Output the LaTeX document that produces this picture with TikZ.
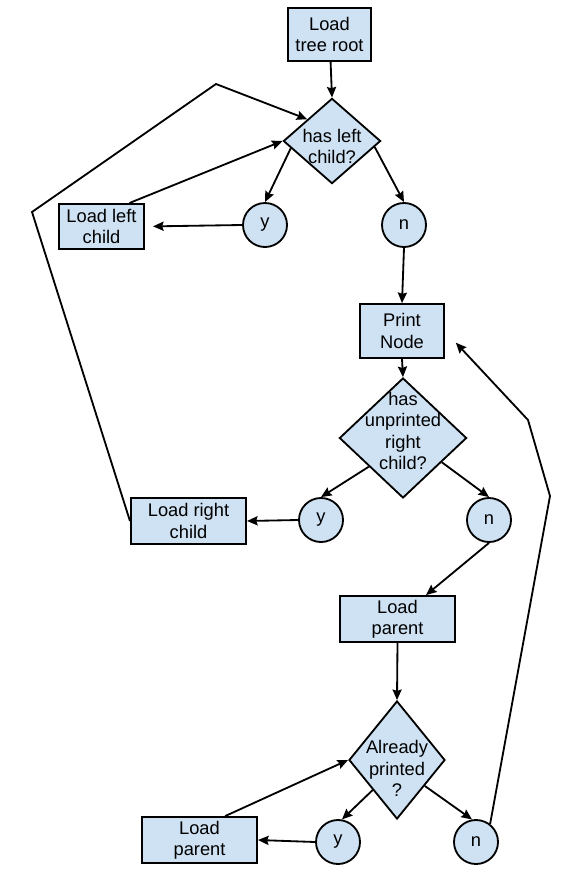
\documentclass[tikz,border=0pt]{standalone}
\usepackage{fontspec}
\setmainfont{Liberation Sans}
\usetikzlibrary{arrows.meta,shapes.geometric}
\definecolor{paleblue}{HTML}{CFE2F3}

\begin{document}
\begin{tikzpicture}[x=0.025cm,y=-0.025cm,>={Stealth[length=7.5pt,width=6.5pt,inset=1pt]},line width=1.3pt,
 font=\fontsize{13}{15}\selectfont,
 b/.style={draw,fill=paleblue,align=center,inner sep=0pt,minimum height=1.15cm,minimum width=2.88cm},
 dm/.style={draw,fill=paleblue,diamond,inner sep=0pt},
 ci/.style={draw,fill=paleblue,circle,inner sep=0pt,minimum size=1.1cm}]
\useasboundingbox (0,0) rectangle (584,894);
% first loop: walk down the left side
\node[b,minimum width=2.08cm,minimum height=1.33cm] (root) at (329.5,34.5) {Load\\tree root};
\node[dm,minimum width=2.43cm,minimum height=2.13cm,label={[align=center,yshift=-4pt]center:has left\\child?}] (hl) at (332,141) {};
\node[ci] (hly) at (265,225) {y};\node[ci] (hln) at (404,225) {n};
\node[b,minimum width=2.13cm,minimum height=1.13cm] (llc) at (101.5,226.5) {Load left\\child};
\node[b,minimum width=2.1cm,minimum height=1.35cm] (pr) at (402,331) {Print\\Node};
% right child or go up
\node[dm,minimum width=3.18cm,minimum height=3cm,label={[align=center,yshift=5pt]center:has\\unprinted\\right\\child?}] (hr) at (403,438) {};
\node[ci] (hry) at (321,520) {y};\node[ci] (hrn) at (489,520) {n};
\node[b] (lrc) at (188.5,521) {Load right\\child};
\node[b] (lp) at (397.5,619) {Load\\parent};
\node[dm,minimum width=2.4cm,minimum height=2.95cm,label={[align=center,yshift=-6pt]center:Already\\printed\\?}] (ap) at (397,760) {};
\node[ci] (apy) at (338,842) {y};\node[ci] (apn) at (476,842) {n};
\node[b] (lp2) at (199.5,840) {Load\\parent};
\coordinate (k1) at (32,212);\coordinate (k2) at (216,84);
\coordinate (k3) at (550,496);\coordinate (k4) at (528,420);
\draw[->] (root)--(hl.north);
\draw[->] (hl.190)--(hly.north);\draw[->] (hl.-8)--(hln.north);
\draw[->,shorten >=0.2cm] (hly.west)--(llc.east);\draw[->] (llc.40)--(hl.west);
\draw[->] (hln.south)--(pr.north);\draw[->] (pr.south)--(hr.north);
\draw[->] (hr.220)--(hry.north);\draw[->] (hr.-32)--(hrn.north);
\draw[->] (hry.west)--(lrc.east);
\draw[->] (lrc.west)--(k1)--(k2)--(hl.north west);
\draw[->] (hrn.south)--(lp.40);\draw[->] (lp.south)--(ap.north);
\draw[->] (ap.231)--(apy.80);\draw[->] (ap.-43)--(apn.100);
\draw[->] (apy.west)--(lp2.east);\draw[->] (lp2.43)--(ap.west);
\draw[->,shorten >=0.4cm] (apn.52)--(k3)--(k4)--(pr.east);
\end{tikzpicture}
\end{document}
